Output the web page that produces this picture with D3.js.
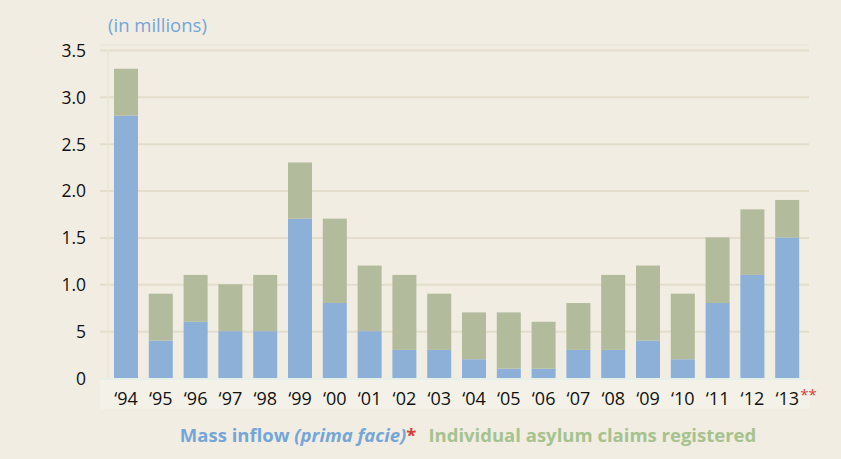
<!DOCTYPE html>
<html>
<head>
<meta charset="utf-8">
<script src="https://cdn.jsdelivr.net/npm/d3@7"></script>
<style>
  html, body { margin: 0; padding: 0; background: #f1ede2; }
  svg { display: block; }
  text { font-family: "Open Sans", "Lato", sans-serif; }
</style>
</head>
<body>
<svg id="chart" width="841" height="459"></svg>
<script>
const years = ["‘94","‘95","‘96","‘97","‘98","‘99","‘00","‘01","‘02","‘03","‘04","‘05","‘06","‘07","‘08","‘09","‘10","‘11","‘12","‘13"];
const massInflow = [2.8,0.4,0.6,0.5,0.5,1.7,0.8,0.5,0.3,0.3,0.2,0.1,0.1,0.3,0.3,0.4,0.2,0.8,1.1,1.5];
const individualClaims = [0.5,0.5,0.5,0.5,0.6,0.6,0.9,0.7,0.8,0.6,0.5,0.6,0.5,0.5,0.8,0.8,0.7,0.7,0.7,0.4];
const tickValues = [0,0.5,1.0,1.5,2.0,2.5,3.0,3.5];
const tickLabels = ["0","5","1.0","1.5","2.0","2.5","3.0","3.5"];

const svg = d3.select("#chart");
const colors = { bg: "#f1ede2", grid: "#e4ddcc", mass: "#8cb0d8", indiv: "#b3bb9d",
  massText: "#74a6d8", indivText: "#a6c28f", star: "#d93a3a" };

svg.append("rect").attr("width", 841).attr("height", 459).attr("fill", colors.bg);

const x = d3.scaleBand().domain(years).range([108.6, 804.6]).paddingInner(0.31).paddingOuter(0.155);
const y = d3.scaleLinear().domain([0, 3.5]).range([378, 50]);

// faint x-axis strip
svg.append("rect").attr("x", 100).attr("y", 378).attr("width", 710).attr("height", 31)
  .attr("fill", "#f4f1e8");

// gridlines
const grid = svg.append("g").attr("transform", "translate(100,0)")
  .call(d3.axisLeft(y).tickValues(tickValues.filter(d => d > 0)).tickSize(-709).tickFormat(""));
grid.select(".domain").remove();
grid.selectAll("line").attr("stroke", colors.grid).attr("stroke-width", 2);
// faint extra line above the top gridline
svg.append("line").attr("x1", 100).attr("x2", 809).attr("y1", y(3.5) - 5).attr("y2", y(3.5) - 5)
  .attr("stroke", "#ebe6d8").attr("stroke-width", 1.5);

// faint vertical axis line
svg.append("line").attr("x1", 108).attr("x2", 108).attr("y1", 50).attr("y2", 380)
  .attr("stroke", "#e9e4d6").attr("stroke-width", 1.5);

// stacked bars
const stackData = years.map((yr, i) => ({ year: yr, mass: massInflow[i], indiv: individualClaims[i] }));
const stack = d3.stack().keys(["mass", "indiv"])(stackData);
const fills = { mass: colors.mass, indiv: colors.indiv };
svg.append("g").selectAll("g").data(stack).join("g")
  .attr("fill", d => fills[d.key])
  .selectAll("rect").data(d => d).join("rect")
  .attr("x", d => x(d.data.year))
  .attr("width", x.bandwidth())
  .attr("y", d => y(d[1]))
  .attr("height", d => y(d[0]) - y(d[1]));

// baseline
svg.append("line").attr("x1", 100).attr("x2", 809).attr("y1", 379).attr("y2", 379)
  .attr("stroke", "#e6efe8").attr("stroke-width", 2);

// y axis labels
const yAxis = svg.append("g").attr("transform", "translate(86,0)")
  .call(d3.axisLeft(y).tickValues(tickValues).tickSize(0).tickFormat((d, i) => tickLabels[i]));
yAxis.select(".domain").remove();
yAxis.selectAll("text").attr("fill", "#111").attr("font-size", 17.5)
  .attr("x", 0).attr("dy", "0.36em");

// x axis labels
const xAxis = svg.append("g").attr("transform", "translate(0,380)")
  .call(d3.axisBottom(x).tickSize(0).tickPadding(11));
xAxis.select(".domain").remove();
xAxis.selectAll("text").attr("fill", "#111").attr("font-size", 18).attr("dy", "0.75em");
// asterisks after last label
const lastX = x(years[years.length - 1]) + x.bandwidth() / 2;
svg.append("text").attr("x", lastX + 13).attr("y", 400).attr("font-size", 15)
  .attr("fill", colors.star).text("**");

// unit label
svg.append("text").attr("x", 108).attr("y", 32).attr("font-size", 18.5)
  .attr("fill", colors.massText).text("(in millions)");

// legend
const legend = svg.append("text").attr("x", 468).attr("y", 442).attr("text-anchor", "middle")
  .attr("font-size", 18.5).attr("font-weight", "bold");
legend.append("tspan").attr("fill", colors.massText).text("Mass inflow ");
legend.append("tspan").attr("fill", colors.massText).attr("font-style", "italic").text("(prima facie)");
legend.append("tspan").attr("fill", colors.star).text("*");
legend.append("tspan").attr("fill", colors.indivText).attr("dx", 12).text("Individual asylum claims registered");
</script>
</body>
</html>
